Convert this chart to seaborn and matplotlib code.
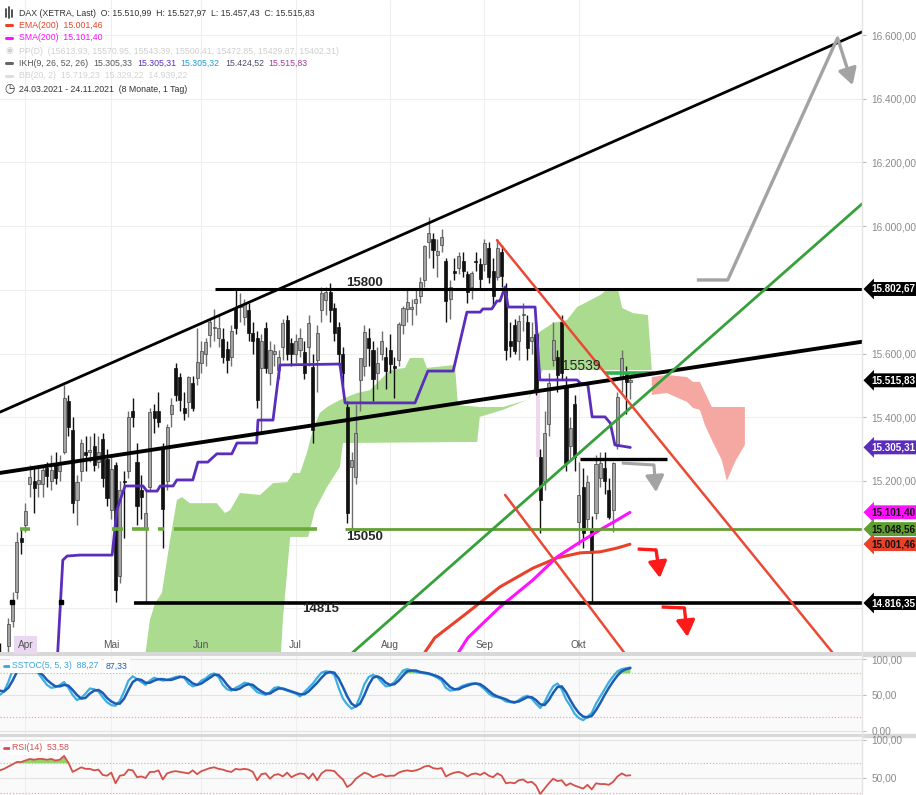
import numpy as np
import pandas as pd
import matplotlib
matplotlib.use('Agg')
import matplotlib.pyplot as plt
from matplotlib.lines import Line2D
import seaborn as sns

# daily candles, 24.03.2021 .. 19.10.2021 (trading day index 0..147)
opens = [14660, 14570, 14680, 14760, 14850, 15020, 15060, 15190, 15200, 15190,
         15190, 15240, 15200, 15250, 15230, 15290, 15450, 15360, 15140, 15230,
         15290, 15290, 15310, 15260, 15330, 15270, 15110, 15250, 14900, 15200,
         15230, 15420, 15260, 15170, 15050, 15180, 15420, 15420, 15300, 15200,
         15410, 15555, 15525, 15428, 15447, 15507, 15523, 15570, 15600, 15657,
         15680, 15650, 15647, 15615, 15590, 15743, 15745, 15715, 15737, 15665,
         15650, 15555, 15680, 15540, 15600, 15548, 15620, 15705, 15632, 15600,
         15610, 15605, 15620, 15557, 15580, 15737, 15767, 15792, 15743, 15683,
         15600, 15432, 15243, 15212, 15517, 15560, 15650, 15610, 15540, 15600,
         15590, 15610, 15560, 15580, 15690, 15740, 15740, 15760, 15780, 15830,
         15950, 15960, 15910, 15940, 15890, 15770, 15860, 15870, 15890, 15850,
         15810, 15890, 15880, 15880, 15930, 15860, 15840, 15920, 15800, 15640,
         15690, 15640, 15720, 15700, 15640, 15660, 15275, 15200, 15380, 15580,
         15590, 15700, 15495, 15310, 15440, 15070, 15180, 15080, 15050, 15100,
         15210, 15240, 15170, 15108, 15310, 15520, 15540, 15511]
highs = [14690, 14640, 14770, 14850, 15040, 15050, 15130, 15250, 15240, 15250,
         15250, 15260, 15280, 15290, 15280, 15501, 15470, 15400, 15220, 15330,
         15340, 15340, 15350, 15340, 15350, 15300, 15280, 15260, 15200, 15230,
         15420, 15460, 15320, 15220, 15170, 15430, 15440, 15480, 15320, 15380,
         15460, 15570, 15540, 15480, 15530, 15530, 15680, 15640, 15650, 15710,
         15740, 15720, 15680, 15640, 15690, 15800, 15790, 15770, 15760, 15700,
         15670, 15660, 15700, 15640, 15630, 15610, 15710, 15720, 15650, 15660,
         15680, 15640, 15720, 15600, 15690, 15810, 15810, 15820, 15760, 15700,
         15620, 15450, 15290, 15440, 15560, 15690, 15680, 15640, 15620, 15670,
         15620, 15660, 15590, 15700, 15750, 15800, 15770, 15800, 15840, 15940,
         16030, 15980, 15960, 15990, 15900, 15830, 15900, 15920, 15920, 15860,
         15860, 15920, 15900, 15960, 15950, 15900, 15960, 15940, 15820, 15700,
         15710, 15720, 15760, 15720, 15700, 15700, 15300, 15420, 15540, 15700,
         15610, 15720, 15530, 15400, 15470, 15260, 15240, 15220, 15090, 15280,
         15290, 15290, 15210, 15260, 15480, 15610, 15560, 15528]
lows = [14560, 14480, 14640, 14740, 14830, 14970, 15040, 15150, 15100, 15150,
        15150, 15180, 15170, 15190, 15200, 15285, 15340, 15100, 15060, 15200,
        15230, 15260, 15230, 15240, 15180, 15120, 15080, 14820, 14880, 15020,
        15210, 15370, 15060, 15080, 14820, 15170, 15350, 15370, 14990, 15170,
        15370, 15450, 15420, 15390, 15400, 15420, 15500, 15540, 15560, 15620,
        15640, 15620, 15570, 15540, 15560, 15660, 15700, 15690, 15640, 15600,
        15430, 15350, 15540, 15500, 15560, 15520, 15580, 15580, 15560, 15570,
        15590, 15520, 15560, 15320, 15480, 15700, 15720, 15700, 15640, 15560,
        15500, 15067, 15050, 15190, 15420, 15530, 15560, 15450, 15490, 15580,
        15490, 15540, 15460, 15560, 15660, 15700, 15690, 15720, 15760, 15810,
        15900, 15870, 15840, 15920, 15700, 15710, 15830, 15850, 15840, 15760,
        15770, 15860, 15800, 15860, 15820, 15750, 15830, 15810, 15580, 15590,
        15600, 15580, 15670, 15580, 15600, 15470, 15036, 15170, 15340, 15560,
        15480, 15517, 15230, 15270, 15230, 15000, 14990, 15050, 14818, 15080,
        15180, 15160, 15080, 15040, 15300, 15480, 15410, 15457]
closes = [14610, 14621, 14749, 14818, 15009, 15008, 15107, 15212, 15177, 15203,
          15234, 15215, 15234, 15209, 15255, 15460, 15368, 15130, 15195, 15320,
          15280, 15296, 15249, 15292, 15210, 15146, 15236, 14857, 15171, 15197,
          15400, 15400, 15120, 15150, 15100, 15416, 15397, 15386, 15113, 15370,
          15437, 15471, 15453, 15413, 15525, 15428, 15573, 15608, 15636, 15700,
          15682, 15680, 15590, 15580, 15672, 15680, 15752, 15757, 15665, 15640,
          15453, 15640, 15555, 15610, 15607, 15590, 15695, 15600, 15600, 15640,
          15650, 15540, 15695, 15360, 15665, 15790, 15793, 15737, 15665, 15600,
          15540, 15099, 15265, 15350, 15585, 15669, 15618, 15519, 15570, 15640,
          15544, 15568, 15555, 15692, 15744, 15761, 15745, 15770, 15826, 15937,
          15977, 15925, 15921, 15965, 15765, 15808, 15852, 15906, 15860, 15793,
          15852, 15887, 15835, 15946, 15840, 15781, 15932, 15843, 15610, 15623,
          15609, 15701, 15722, 15616, 15652, 15490, 15140, 15349, 15507, 15644,
          15532, 15540, 15256, 15366, 15275, 15157, 15037, 15195, 14973, 15252,
          15257, 15200, 15087, 15256, 15463, 15587, 15510, 15516]

month_labels = ['Apr', 'Mai', 'Jun', 'Jul', 'Aug', 'Sep', 'Okt']
month_idx = [6, 26, 47, 69, 91, 113, 135]

# Ichimoku cloud outline (green part, then future red part)
cloud_top_x = [33.4, 35.0, 36.2, 37.8, 39.7, 41.3, 42.5, 44.3, 50.6, 52.5, 53.7, 56.0, 60.7,
               63.7, 67.0, 68.4, 70.0, 71.6, 73.0, 74.6, 76.3, 79.3, 80.9, 83.3, 86.3, 91.0,
               94.5, 95.6, 98.7, 99.6, 106.1, 106.8, 111.9, 117.3, 122.9, 125.2, 125.4, 129.0,
               132.2, 134.6, 136.9, 140.0, 141.8, 144.1, 145.1, 147.6, 151.1, 152.0]
cloud_top = [14600, 14763, 14816, 14848, 15014, 15140, 15149, 15130, 15130, 15099, 15108, 15162,
             15156, 15193, 15196, 15225, 15225, 15288, 15360, 15413, 15432, 15454, 15463, 15476,
             15485, 15548, 15555, 15586, 15586, 15555, 15564, 15438, 15432, 15432, 15454, 15507,
             15664, 15696, 15705, 15746, 15762, 15784, 15803, 15803, 15743, 15727, 15721, 15548]
cloud_bot_x = [33.4, 65.3, 66.0, 67.7, 71.9, 73.5, 76.3, 79.3, 80.0, 106.8, 111.3, 111.9, 117.3,
               122.9, 125.2, 126.5, 152.0]
cloud_bot = [14600, 14600, 14763, 15024, 15024, 15109, 15181, 15244, 15319, 15322, 15322, 15401,
             15423, 15454, 15495, 15548, 15548]
red_top_x = [152.0, 155.5, 160.2, 161.6, 163.2, 166.0, 173.7]
red_top = [15526, 15533, 15526, 15511, 15511, 15432, 15432]
red_bot_x = [152.0, 155.5, 160.2, 161.6, 163.2, 164.4, 166.0, 168.3, 169.5, 171.4, 173.7]
red_bot = [15470, 15476, 15448, 15429, 15423, 15375, 15328, 15266, 15200, 15260, 15313]

# Kijun line
kijun_x = [12.9, 14.7, 15.7, 18.7, 26.2, 27.3, 29.2, 33.4, 34.3, 36.7, 37.4, 40.4, 41.3, 45.0,
           46.2, 48.5, 50.6, 54.1, 55.3, 59.9, 60.2, 63.7, 65.3, 79.3, 80.5, 96.8, 99.8, 105.7,
           108.9, 112.0, 112.6, 114.7, 115.9, 116.6, 117.8, 118.5, 124.8, 125.9, 134.6, 135.3,
           137.1, 138.1, 141.1, 142.3, 143.4, 147.0]
kijun = [14512, 14951, 14964, 14967, 14967, 15109, 15184, 15184, 15168, 15168, 15184, 15184,
         15203, 15203, 15259, 15259, 15285, 15285, 15319, 15319, 15391, 15391, 15564, 15567,
         15445, 15445, 15545, 15545, 15730, 15730, 15740, 15740, 15765, 15765, 15809, 15746,
         15746, 15517, 15517, 15507, 15501, 15401, 15401, 15382, 15313, 15305]

ema_x = [96.0, 101.4, 108.9, 116.6, 124.3, 129.9, 135.3, 139.9, 143.9, 146.9]
ema200 = [14600, 14707, 14785, 14867, 14926, 14958, 14974, 14977, 14989, 15001]
sma_x = [105.0, 109.1, 116.6, 124.3, 129.9, 135.3, 139.9, 143.9, 146.9]
sma200 = [14620, 14707, 14804, 14889, 14961, 15008, 15046, 15077, 15101]

# slow stochastic (5,5,3) and RSI(14)
stoch_k = [50, 55, 68, 85, 94, 95, 92, 88, 85, 80, 72, 64, 60, 61, 64, 68, 60, 50, 43, 46,
           52, 59, 58, 55, 47, 40, 36, 35, 42, 55, 70, 76, 72, 68, 64, 70, 74, 72, 70, 71,
           73, 75, 76, 74, 66, 62, 64, 70, 73, 78, 80, 75, 64, 58, 56, 60, 63, 67, 66, 60,
           54, 52, 50, 54, 60, 61, 58, 56, 54, 52, 48, 54, 60, 66, 74, 81, 83, 82, 78, 60,
           45, 37, 31, 34, 48, 65, 75, 78, 75, 68, 62, 63, 68, 76, 84, 86, 84, 82, 81, 80,
           79, 77, 74, 70, 60, 56, 57, 60, 63, 65, 66, 66, 63, 58, 52, 48, 47, 45, 41, 40,
           39, 43, 47, 49, 45, 38, 32, 40, 52, 62, 66, 58, 44, 35, 24, 18, 15, 20, 25, 38,
           48, 58, 68, 76, 83, 86, 87, 88.27]
stoch_d = [56, 55, 60, 70, 82, 88, 90, 89, 86, 82, 78, 71, 66, 62, 62, 64, 63, 57, 50, 45,
           46, 52, 56, 57, 53, 46, 41, 38, 38, 45, 57, 68, 72, 71, 67, 67, 70, 72, 72, 71,
           71, 73, 75, 75, 71, 66, 64, 66, 70, 74, 78, 78, 72, 64, 58, 57, 59, 63, 65, 64,
           59, 55, 52, 52, 56, 59, 59, 57, 55, 53, 51, 51, 55, 61, 67, 74, 80, 82, 81, 73,
           61, 48, 38, 34, 38, 50, 64, 74, 76, 73, 67, 64, 65, 70, 77, 83, 84, 84, 82, 81,
           80, 78, 76, 73, 67, 61, 58, 58, 61, 63, 65, 66, 65, 61, 56, 51, 48, 46, 44, 41,
           40, 41, 44, 47, 47, 43, 37, 36, 43, 53, 61, 62, 54, 43, 33, 25, 20, 19, 21, 29,
           39, 50, 60, 69, 77, 83, 86, 87.33]
rsi = [60, 62, 65, 68, 71, 71, 73, 75, 74, 75, 75, 74, 75, 73, 74, 79, 70, 58, 61, 64,
       62, 62, 60, 61, 54, 53, 57, 43, 53, 54, 61, 60, 51, 52, 50, 58, 58, 60, 48, 56,
       58, 59, 58, 57, 56, 60, 55, 59, 61, 63, 64, 62, 61, 59, 58, 62, 61, 62, 61, 58,
       47, 55, 56, 49, 54, 55, 52, 57, 51, 54, 56, 55, 49, 56, 47, 56, 60, 60, 59, 53,
       48, 38, 42, 49, 53, 57, 55, 51, 53, 55, 52, 53, 53, 57, 59, 60, 59, 60, 62, 65,
       66, 63, 62, 63, 52, 55, 57, 58, 56, 52, 55, 56, 54, 57, 53, 51, 56, 53, 43, 44,
       43, 47, 48, 44, 45, 40, 29, 36, 43, 49, 46, 47, 40, 43, 40, 38, 36, 41, 35, 43,
       42, 42, 41, 45, 52, 56, 53, 53.58]

# drawn annotations (index, price)
upper_trend = ([0.06, 201.0], [15416, 16610])
lower_trend = ([0.06, 201.0], [15225, 15637])
green_trend = ([81.6, 201.0], [14653, 16070])
red_trend_1 = ([115.9, 194.6], [15956, 14653])
red_trend_2 = ([117.8, 146.0], [15156, 14653])
gray_arrow_big = ([162.5, 169.7, 195.3, 198.8], [15831, 15831, 16591, 16443])
gray_arrow_small = ([145.0, 152.5, 153.0], [15256, 15250, 15165])
red_arrow_1 = ([148.7, 153.0, 153.9], [14986, 14983, 14895])
red_arrow_2 = ([154.3, 159.6, 160.3], [14804, 14801, 14710])
green_dash_segments = [(4.7, 7.0), (26.2, 28.7), (30.8, 34.8), (36.9, 38.3), (40.6, 74.0)]

W, H = 916, 795
sns.set_style('white')
plt.rcParams['font.family'] = ['Liberation Sans', 'DejaVu Sans']

df = pd.DataFrame({'o': opens, 'h': highs, 'l': lows, 'c': closes})
df['i'] = np.arange(len(df))
df['up'] = df['c'] >= df['o']

fig = plt.figure(figsize=(W / 100, H / 100), dpi=100)
AX_R = 862 / W
ax = fig.add_axes([0, 1 - 652 / H, AX_R, 652 / H])
ax_st = fig.add_axes([0, 1 - 734 / H, AX_R, 78 / H])
ax_rsi = fig.add_axes([0, 0, AX_R, 58 / H])

XLIM = (0.06, 201.0)
for a in (ax, ax_st, ax_rsi):
    a.set_xlim(*XLIM)
    for s in a.spines.values():
        s.set_visible(False)
    a.set_xticks([])
    for m in month_idx:
        a.axvline(m, color='#eeeeee', lw=0.8, zorder=0)
ax.set_ylim(14662.6, 16710.3)
ax_st.set_ylim(-4.2, 104.2)
ax_rsi.set_ylim(27.6, 103.9)
ax_st.set_facecolor('#fafafa')
ax_rsi.set_facecolor('#fafafa')

for p in range(14800, 16800, 200):
    ax.axhline(p, color='#eeeeee', lw=0.8, zorder=0)

# cloud
ax.fill(cloud_top_x + cloud_bot_x[::-1], cloud_top + cloud_bot[::-1],
        color='#aadb8f', lw=0, zorder=1)
ax.fill(red_top_x + red_bot_x[::-1], red_top + red_bot[::-1],
        color='#f5a8a2', lw=0, zorder=1)

# gap marker before 20.09.
ax.fill_between([125.0, 125.9], opens[126], closes[125], color='#f1d6ef', lw=0, zorder=1)

# horizontal levels
ax.hlines(15802.67, 50.2, 201, color='black', lw=2.2, zorder=5)
ax.hlines(14816.35, 31.3, 201, color='black', lw=2.6, zorder=5)
ax.hlines(15270, 135.3, 155.5, color='black', lw=2.4, zorder=5)
ax.hlines(15048.56, 80.5, 201, color='#649e36', lw=2.0, zorder=5)
for a0, a1 in green_dash_segments:
    ax.hlines(15048.56, a0, a1, color='#6aaa3a', lw=2.6, zorder=5)
ax.hlines(15539, 141.1, 152.5, color='#2db34a', lw=2.6, zorder=5)
ax.plot([2.9, 14.3], [14820, 14820], ls='none', marker='s', ms=3.2, color='black', zorder=6)

# candles
wick_col = np.where(df['up'], '#6f6f6f', '#111111')
ax.vlines(df['i'], df['l'], df['h'], colors=wick_col, lw=1.0, zorder=3)
body_bot = np.minimum(df['o'], df['c'])
body_h = np.maximum((df['c'] - df['o']).abs(), 4)
ax.bar(df['i'], body_h, bottom=body_bot, width=0.72,
       color=np.where(df['up'], '#a3a3a3', '#111111'),
       edgecolor=np.where(df['up'], '#444444', '#111111'), lw=0.5, zorder=3)

# indicator lines
sns.lineplot(x=kijun_x, y=kijun, ax=ax, color='#5a2dbb', lw=2.0, zorder=4)
sns.lineplot(x=ema_x, y=ema200, ax=ax, color='#e8432a', lw=2.2, zorder=4)
sns.lineplot(x=sma_x, y=sma200, ax=ax, color='#ff10ff', lw=2.2, zorder=4)

# trend lines
ax.plot(*upper_trend, color='black', lw=2.0, zorder=5)
ax.plot(*lower_trend, color='black', lw=2.8, zorder=5)
ax.plot(*green_trend, color='#36a03a', lw=2.0, zorder=5)
ax.plot(*red_trend_1, color='#ea4a35', lw=1.8, zorder=5)
ax.plot(*red_trend_2, color='#ea4a35', lw=1.8, zorder=5)


def hook_arrow(xs, ys, color, lw):
    ax.plot(xs[:-1], ys[:-1], color=color, lw=lw, zorder=6, solid_capstyle='butt')
    ax.annotate('', xy=(xs[-1], ys[-1]), xytext=(xs[-2], ys[-2]), zorder=6,
                arrowprops=dict(arrowstyle='-|>,head_length=0.7,head_width=0.4',
                                color=color, lw=lw, shrinkA=0, shrinkB=0,
                                mutation_scale=14))


hook_arrow(*gray_arrow_big, '#a3a3a3', 2.4)
hook_arrow(*gray_arrow_small, '#a3a3a3', 2.2)
hook_arrow(*red_arrow_1, '#ff1a1a', 2.4)
hook_arrow(*red_arrow_2, '#ff1a1a', 2.4)

# level labels
ax.text(85.1, 15821, '15800', ha='center', va='center', fontsize=9.5, fontweight='bold', zorder=7)
ax.text(85.1, 15024, '15050', ha='center', va='center', fontsize=9.5, fontweight='bold', zorder=7)
ax.text(74.7, 14798, '14815', ha='center', va='center', fontsize=9.5, fontweight='bold', zorder=7)
ax.text(135.5, 15561, '15539', ha='center', va='center', fontsize=10, zorder=7)

# month labels
for lab, m in zip(month_labels, month_idx):
    kw = {}
    if lab == 'Apr':
        kw['bbox'] = dict(boxstyle='square,pad=0.35', fc='#ead7f1', ec='none')
    ax.text(m, 0.0107, lab, transform=ax.get_xaxis_transform(), ha='center', va='center',
            fontsize=7.3, color='#555555', zorder=8, **kw)


def de_fmt(v):
    s = f'{v:,.2f}'
    return s.replace(',', 'X').replace('.', ',').replace('X', '.')


# right axis ticks
ax.yaxis.tick_right()
ax.set_yticks([15200, 15400, 15600, 16000, 16200, 16400, 16600])
ax.set_yticklabels([de_fmt(v) for v in [15200, 15400, 15600, 16000, 16200, 16400, 16600]])
for a, tks in ((ax_st, [0, 50, 100]), (ax_rsi, [50, 100])):
    a.yaxis.tick_right()
    a.set_yticks(tks)
    a.set_yticklabels([de_fmt(v) for v in tks])
for a in (ax, ax_st, ax_rsi):
    a.tick_params(axis='y', length=3, width=0.8, color='#bbbbbb', labelcolor='#8a8a8a',
                  labelsize=7.3, pad=4, direction='out')
    a.set_ylabel('')


def tag(value, text, fc, tc):
    ax.annotate(text, xy=(1, value), xycoords=('axes fraction', 'data'),
                xytext=(9, 0), textcoords='offset pixels', ha='left', va='center',
                fontsize=7.1, color=tc, fontweight='bold', annotation_clip=False, zorder=10,
                bbox=dict(boxstyle='larrow,pad=0.2', fc=fc, ec='none'))


tag(15802.67, '15.802,67', 'black', 'white')
tag(15515.83, '15.515,83', 'black', 'white')
tag(15305.31, '15.305,31', '#5a2dbb', 'white')
tag(15101.40, '15.101,40', '#ff10ff', '#111111')
tag(15048.56, '15.048,56', '#5f9e31', '#111111')
tag(15001.46, '15.001,46', '#e8432a', '#111111')
tag(14816.35, '14.816,35', 'black', 'white')

# stochastic panel
ax_st.axhline(100, color='#e3e3e3', lw=0.8)
ax_st.axhline(50, color='#e3e3e3', lw=0.8)
ax_st.axhline(0, color='#e3e3e3', lw=0.8)
ax_st.axhline(80, color='#a7d98a', lw=0.9, ls=(0, (1, 1.5)))
ax_st.axhline(20, color='#f3a6a6', lw=0.9, ls=(0, (1, 1.5)))
st_top = np.maximum(stoch_k, stoch_d)
ax_st.fill_between(df['i'], 80, st_top, where=st_top > 80, interpolate=True,
                   color='#8fd46a', lw=0, zorder=2)
sns.lineplot(x=df['i'], y=stoch_k, ax=ax_st, color='#3eaee0', lw=1.6, zorder=3)
sns.lineplot(x=df['i'], y=stoch_d, ax=ax_st, color='#1b5cb5', lw=1.8, zorder=4)
ax_st.set_ylabel('')

# RSI panel
ax_rsi.axhline(100, color='#e3e3e3', lw=0.8)
ax_rsi.axhline(50, color='#e3e3e3', lw=0.8)
ax_rsi.axhline(70, color='#a7d98a', lw=0.9, ls=(0, (1, 1.5)))
ax_rsi.axhline(30, color='#f3a6a6', lw=0.9, ls=(0, (1, 1.5)))
rsi_arr = np.array(rsi)
ax_rsi.fill_between(df['i'], 70, rsi_arr, where=rsi_arr > 70, interpolate=True,
                    color='#8fd46a', lw=0, zorder=2)
sns.lineplot(x=df['i'], y=rsi, ax=ax_rsi, color='#d4504a', lw=1.3, zorder=3)
ax_rsi.set_ylabel('')

# frame pieces (kept below the axes so tick labels stay readable)
fig.add_artist(plt.Rectangle((0, 1 - 656 / H), 1, 4 / H, transform=fig.transFigure,
                             color='#d8d8d8', zorder=-1))
fig.add_artist(plt.Rectangle((0, 1 - 737 / H), 1, 2.6 / H, transform=fig.transFigure,
                             color='#d8d8d8', zorder=-1))
fig.add_artist(Line2D([AX_R, AX_R], [0, 1], transform=fig.transFigure, color='#e4e4e4', lw=1))

LEG_FS = 6.3


def ftxt(px, py, s, color, **kw):
    return fig.text(px / W, 1 - py / H, s, color=color, va='center', ha='left',
                    fontsize=kw.pop('fontsize', LEG_FS), **kw)


def fdash(px, py, color, w=6, lw=2.2):
    fig.add_artist(Line2D([px / W, (px + w) / W], [1 - py / H] * 2, transform=fig.transFigure,
                          color=color, lw=lw))


# legend block, top left
for xx, y0, y1 in ((6, 9, 17), (9, 7, 18), (12, 10, 17)):
    fig.add_artist(Line2D([xx / W] * 2, [1 - y1 / H, 1 - y0 / H], transform=fig.transFigure,
                          color='#444444', lw=1.3))
ftxt(19, 13, 'DAX (XETRA, Last)  O: 15.510,99  H: 15.527,97  L: 15.457,43  C: 15.515,83', '#333333')
fdash(6, 25, '#e8432a')
ftxt(19, 25, 'EMA(200)  15.001,46', '#e8432a')
fdash(6, 38, '#ff10ff')
ftxt(19, 38, 'SMA(200)  15.101,40', '#ff10ff')
ftxt(5, 51, '\u25c9', '#d0d0d0', fontsize=6.5)
ftxt(19, 51, 'PP(D)  (15613.93, 15570.95, 15543.39, 15500.41, 15472.85, 15429.87, 15402.31)', '#cfcfcf')
fdash(6, 63, '#666666')
ftxt(19, 63, 'IKH(9, 26, 52, 26)', '#555555')
ftxt(93, 63, '15.305,33', '#555555')
ftxt(137, 63, '15.305,31', '#5a2dbb')
ftxt(180, 63, '15.305,32', '#1e9fd6')
ftxt(225, 63, '15.424,52', '#4d4d6b')
ftxt(268, 63, '15.515,83', '#a33d9c')
fdash(6, 76, '#dddddd')
ftxt(19, 76, 'BB(20, 2)  15.719,23  15.329,22  14.939,22', '#d3d3d3')
ftxt(4, 89, '\u25f7', '#333333', fontsize=8.5, family='DejaVu Sans')
ftxt(19, 89, '24.03.2021 - 24.11.2021  (8 Monate, 1 Tag)', '#333333')

# panel legends
ftxt(12, 666, 'SSTOC(5, 5, 3)  88,27', '#3aa6da',
     bbox=dict(boxstyle='square,pad=0.25', fc='white', ec='none'))
ftxt(106, 666, '87,33', '#1b5cb5',
     bbox=dict(boxstyle='square,pad=0.25', fc='white', ec='none'))
fdash(4, 666, '#3aa6da', w=5, lw=2)
ftxt(12, 748, 'RSI(14)  53,58', '#d4504a',
     bbox=dict(boxstyle='square,pad=0.25', fc='white', ec='none'))
fdash(4, 748, '#d4504a', w=5, lw=2)

fig.savefig('out.png', dpi=100)
